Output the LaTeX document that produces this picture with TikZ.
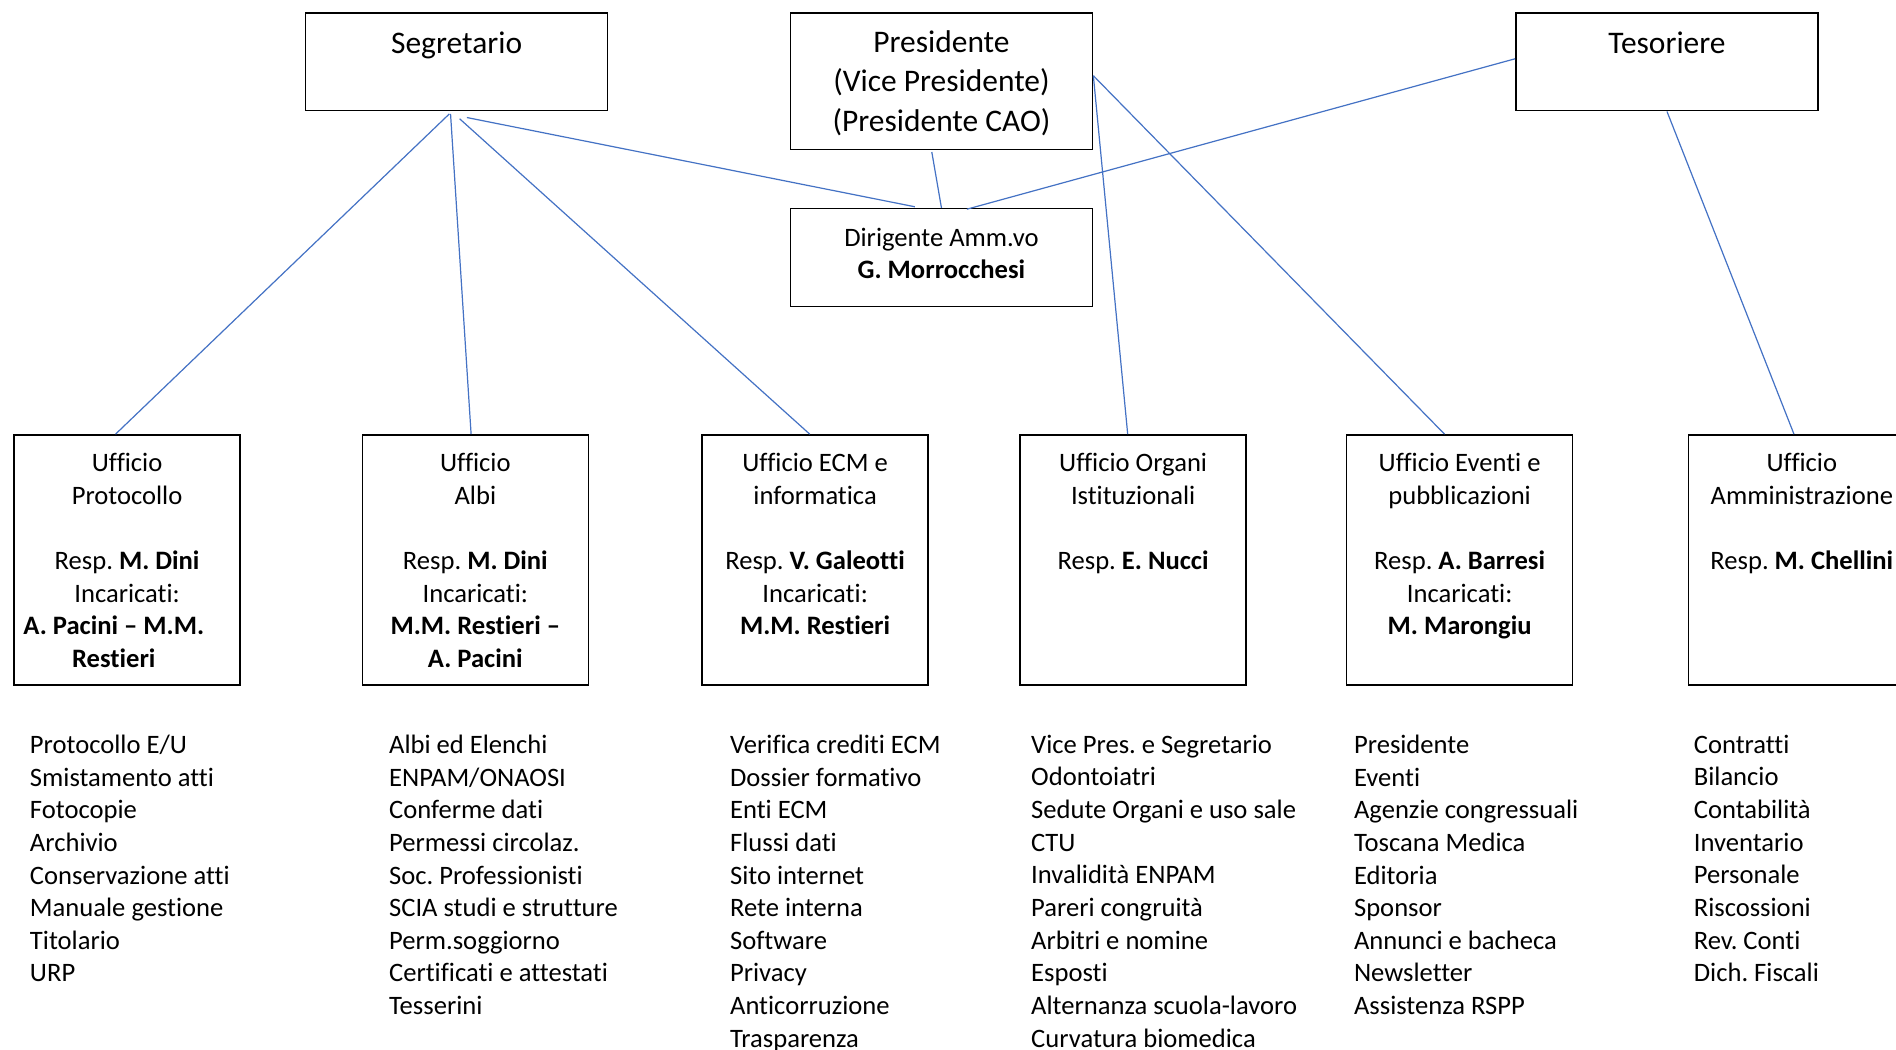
\documentclass[tikz,border=0pt]{standalone}
\usepackage{fontspec}
\setmainfont{Carlito}[Ligatures=NoCommon]
\usetikzlibrary{positioning,calc}
\definecolor{linkblue}{RGB}{68,114,196}
\frenchspacing

\begin{document}
\begin{tikzpicture}[x=0.5pt,y=-0.5pt,-,thick,
    topbox/.style={draw,rectangle,anchor=north west,inner sep=0pt,line width=0.6pt,minimum width=125pt,minimum height=40.5pt},
    ufficio/.style={draw,rectangle,anchor=north west,inner sep=0pt,line width=0.6pt,minimum width=93.5pt,minimum height=103.5pt},
    toptext/.style={align=center,inner sep=0pt,font=\fontsize{13}{16.25}\selectfont,execute at begin node=\strut},
    boxtext/.style={align=center,inner sep=0pt,font=\fontsize{11}{13.5}\selectfont,execute at begin node=\strut},
    listtext/.style={align=left,anchor=north west,inner sep=0pt,font=\fontsize{11}{13.5}\selectfont,execute at begin node=\strut},
    link/.style={draw=linkblue,line width=0.5pt}]

            \useasboundingbox (0,0) rectangle (1568,868);

            % vertici
            \node[topbox] (seg) at (252,10) {};
            \node[topbox,minimum height=56.5pt] (pres) at (653,10) {};
            \node[topbox] (tes) at (1253,10) {};
            \node[topbox] (dir) at (653,172) {};

            \node[toptext] (segtxt) [below=5.25pt of seg.north]{Segretario};
            \node[toptext] (prestxt) [below=7.25pt of pres.north]{Presidente\\(Vice Presidente)\\(Presidente CAO)};
            \node[toptext] (testxt) [below=5.25pt of tes.north]{Tesoriere};
            \node[boxtext,font=\fontsize{11}{13}\selectfont] (dirtxt) [below=8pt of dir.north]{Dirigente Amm.vo\\\textbf{G. Morrocchesi}};

            % uffici
            \node[ufficio] (prot) at (11,359) {};
            \node[ufficio] (albi) at (299,359) {};
            \node[ufficio] (ecm) at (580,359) {};
            \node[ufficio] (org) at (843,359) {};
            \node[ufficio] (eve) at (1113,359) {};
            \node[ufficio] (amm) at (1396,359) {};

            \node[boxtext] (prottxt) [below=7.5pt of prot.north]{Ufficio\\Protocollo\\[13.5pt]Resp. \textbf{M. Dini}\\Incaricati:\\\textbf{A. Pacini – M.M.}\rule{11pt}{0pt}\\\textbf{Restieri}\rule{11pt}{0pt}};
            \node[boxtext] (albitxt) [below=7.5pt of albi.north]{Ufficio\\Albi\\[13.5pt]Resp. \textbf{M. Dini}\\Incaricati:\\\textbf{M.M. Restieri –}\\\textbf{A. Pacini}};
            \node[boxtext] (ecmtxt) [below=7.5pt of ecm.north]{Ufficio ECM e\\informatica\\[13.5pt]Resp. \textbf{V. Galeotti}\\Incaricati:\\\textbf{M.M. Restieri}};
            \node[boxtext] (orgtxt) [below=7.5pt of org.north]{Ufficio Organi\\Istituzionali\\[13.5pt]Resp. \textbf{E. Nucci}};
            \node[boxtext] (evetxt) [below=7.5pt of eve.north]{Ufficio Eventi e\\pubblicazioni\\[13.5pt]Resp. \textbf{A. Barresi}\\Incaricati:\\\textbf{M. Marongiu}};
            \node[boxtext] (ammtxt) [below=7.5pt of amm.north]{Ufficio\\Amministrazione\\[13.5pt]Resp. \textbf{M. Chellini}};

            % compiti
            \node[listtext] (protlist) at (24,607) {Protocollo E/U\\Smistamento atti\\Fotocopie\\Archivio\\Conservazione atti\\Manuale gestione\\Titolario\\URP};
            \node[listtext] (albilist) at (321,607) {Albi ed Elenchi\\ENPAM/ONAOSI\\Conferme dati\\Permessi circolaz.\\Soc. Professionisti\\SCIA studi e strutture\\Perm.soggiorno\\Certificati e attestati\\Tesserini};
            \node[listtext] (ecmlist) at (603,607) {Verifica crediti ECM\\Dossier formativo\\Enti ECM\\Flussi dati\\Sito internet\\Rete interna\\Software\\Privacy\\Anticorruzione\\Trasparenza};
            \node[listtext] (orglist) at (852,607) {Vice Pres. e Segretario\\Odontoiatri\\Sedute Organi e uso sale\\CTU\\Invalidità ENPAM\\Pareri congruità\\Arbitri e nomine\\Esposti\\Alternanza scuola-lavoro\\Curvatura biomedica};
            \node[listtext] (evelist) at (1119,607) {Presidente\\Eventi\\Agenzie congressuali\\Toscana Medica\\Editoria\\Sponsor\\Annunci e bacheca\\Newsletter\\Assistenza RSPP};
            \node[listtext] (ammlist) at (1400,607) {Contratti\\Bilancio\\Contabilità\\Inventario\\Personale\\Riscossioni\\Rev. Conti\\Dich. Fiscali};

            \draw[link] ($(seg.south)+(-6,2)$) to ($(prot.north)+(-9.5,0)$);
            \draw[link] ($(seg.south)+(-5,2)$) to ($(albi.north)+(-3.5,0)$);
            \draw[link] ($(seg.south)+(2.5,6)$) to ($(ecm.north)+(-4.5,0)$);
            \draw[link] ($(seg.south)+(8.5,5)$) to ($(dir.north)+(-22,-1)$);
            \draw[link] ($(pres.south)+(-8,1.5)$) to (dir.north);
            \draw[link] ($(tes.west)+(0,-2.5)$) to ($(dir.north)+(21,1)$);
            \draw[link] ($(pres.east)+(0,-4.5)$) to ($(org.north)+(-4.5,0)$);
            \draw[link] ($(pres.east)+(0,-4.5)$) to ($(eve.north)+(-12.5,0)$);
            \draw[link] (tes.south) to ($(amm.north)+(-6.5,0)$);

            ;
        \end{tikzpicture}
\end{document}
